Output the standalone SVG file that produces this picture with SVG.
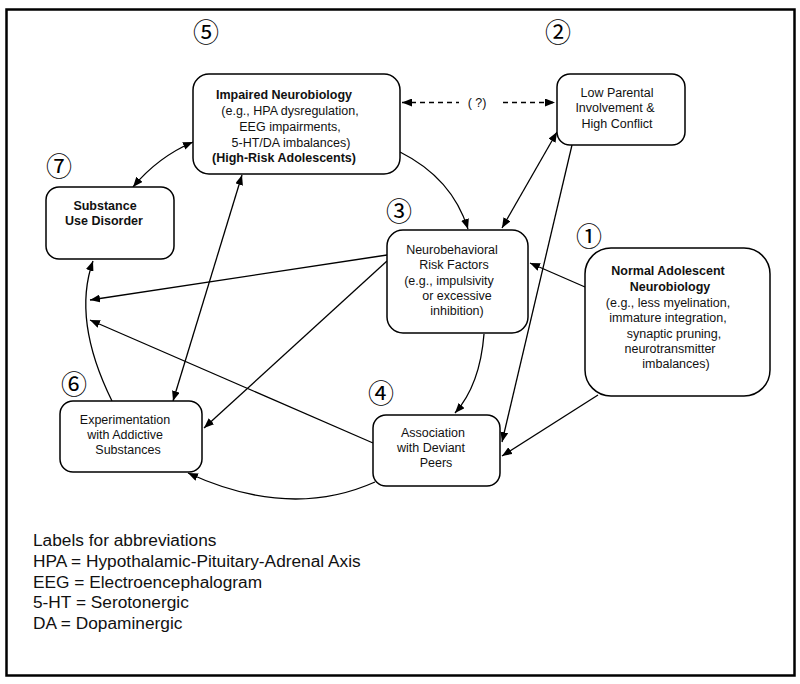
<svg xmlns="http://www.w3.org/2000/svg" width="800" height="684" viewBox="0 0 800 684">
<defs>
<marker id="ah" viewBox="0 0 10 8" refX="10" refY="4" markerWidth="10" markerHeight="8" markerUnits="userSpaceOnUse" orient="auto-start-reverse">
<path d="M0,0 L10,4 L0,8 z" fill="#000"/>
</marker>
<style>
.box{fill:#fff;stroke:#000;stroke-width:1.5}
.t{font-family:"Liberation Sans",Arial,sans-serif;font-size:12.5px;fill:#111;text-anchor:middle}
.b{font-weight:bold}
.num{font-family:"Noto Sans CJK JP","DejaVu Sans",sans-serif;font-size:26px;fill:#000;text-anchor:middle}
.c{fill:none;stroke:#000;stroke-width:1.3}
.leg{font-family:"Liberation Sans",Arial,sans-serif;font-size:17.3px;fill:#111}
</style>
</defs>
<rect x="0" y="0" width="800" height="684" fill="#fff"/>
<rect x="6.5" y="9.5" width="788" height="666" fill="none" stroke="#000" stroke-width="2.5"/>

<g id="connectors">
<line class="c" x1="402" y1="102.5" x2="459" y2="102.5" stroke-dasharray="5,4" marker-start="url(#ah)"/>
<line class="c" x1="503" y1="102.5" x2="555" y2="102.5" stroke-dasharray="5,4" marker-end="url(#ah)"/>
<text class="t" x="477" y="107">( ?)</text>
<path class="c" d="M400,152 Q452,178 468,229" marker-end="url(#ah)"/>
<line class="c" x1="502" y1="228" x2="557" y2="132" marker-start="url(#ah)" marker-end="url(#ah)"/>
<line class="c" x1="572" y1="145" x2="502" y2="442" marker-end="url(#ah)"/>
<line class="c" x1="585" y1="287" x2="530" y2="263" marker-end="url(#ah)"/>
<line class="c" x1="598" y1="395" x2="502" y2="456" marker-end="url(#ah)"/>
<path class="c" d="M484,334 Q480,385 455,413" marker-end="url(#ah)"/>
<line class="c" x1="387" y1="255" x2="90" y2="300" marker-end="url(#ah)"/>
<line class="c" x1="387" y1="261" x2="204" y2="428" marker-end="url(#ah)"/>
<line class="c" x1="373" y1="443" x2="90" y2="320" marker-end="url(#ah)"/>
<path class="c" d="M112,401 Q72,320 93,261" marker-end="url(#ah)"/>
<path class="c" d="M375,482 Q290,520 188,473" marker-end="url(#ah)"/>
<line class="c" x1="242" y1="175" x2="173" y2="401" marker-start="url(#ah)" marker-end="url(#ah)"/>
<path class="c" d="M133,187 Q158,157 193,142" marker-start="url(#ah)" marker-end="url(#ah)"/>
</g>

<g id="n5">
<rect class="box" x="193" y="74" width="207" height="100" rx="16"/>
<text class="t b" x="284" y="99">Impaired Neurobiology</text>
<text class="t" x="290" y="115">(e.g., HPA dysregulation,</text>
<text class="t" x="290" y="131">EEG impairments,</text>
<text class="t" x="291" y="147">5-HT/DA imbalances)</text>
<text class="t b" x="284" y="162">(High-Risk Adolescents)</text>
</g>

<g id="n2">
<rect class="box" x="557" y="74" width="128" height="71" rx="13"/>
<text class="t" x="617" y="97">Low Parental</text>
<text class="t" x="615" y="112">Involvement &amp;</text>
<text class="t" x="617" y="128">High Conflict</text>
</g>

<g id="n7">
<rect class="box" x="46" y="187" width="128" height="72" rx="13"/>
<text class="t b" x="105" y="210">Substance</text>
<text class="t b" x="104" y="225">Use Disorder</text>
</g>

<g id="n3">
<rect class="box" x="387" y="230" width="141" height="103" rx="16"/>
<text class="t" x="452" y="254">Neurobehavioral</text>
<text class="t" x="454" y="269">Risk Factors</text>
<text class="t" x="449" y="285">(e.g., impulsivity</text>
<text class="t" x="457" y="300">or excessive</text>
<text class="t" x="457" y="315">inhibition)</text>
</g>

<g id="n1">
<rect class="box" x="585" y="248" width="185" height="148" rx="26"/>
<text class="t b" x="668" y="275">Normal Adolescent</text>
<text class="t b" x="670" y="291">Neurobiology</text>
<text class="t" x="668" y="307">(e.g., less myelination,</text>
<text class="t" x="668" y="322">immature integration,</text>
<text class="t" x="674" y="338">synaptic pruning,</text>
<text class="t" x="670" y="353">neurotransmitter</text>
<text class="t" x="676" y="368">imbalances)</text>
</g>

<g id="n6">
<rect class="box" x="60" y="401" width="142" height="71" rx="13"/>
<text class="t" x="125" y="424">Experimentation</text>
<text class="t" x="125" y="439">with Addictive</text>
<text class="t" x="128" y="454">Substances</text>
</g>

<g id="n4">
<rect class="box" x="373" y="415" width="127" height="71" rx="13"/>
<text class="t" x="433" y="437">Association</text>
<text class="t" x="431" y="452">with Deviant</text>
<text class="t" x="436" y="467">Peers</text>
</g>

<g id="numbers">
<text class="num" x="206" y="42">⑤</text>
<text class="num" x="558" y="42">②</text>
<text class="num" x="59" y="176">⑦</text>
<text class="num" x="399" y="221">③</text>
<text class="num" x="589" y="246">①</text>
<text class="num" x="74" y="394">⑥</text>
<text class="num" x="381" y="403">④</text>
</g>

<g id="legend">
<text class="leg" x="33" y="546">Labels for abbreviations</text>
<text class="leg" x="33" y="567">HPA = Hypothalamic-Pituitary-Adrenal Axis</text>
<text class="leg" x="33" y="588">EEG = Electroencephalogram</text>
<text class="leg" x="33" y="608">5-HT = Serotonergic</text>
<text class="leg" x="33" y="629">DA = Dopaminergic</text>
</g>
</svg>
